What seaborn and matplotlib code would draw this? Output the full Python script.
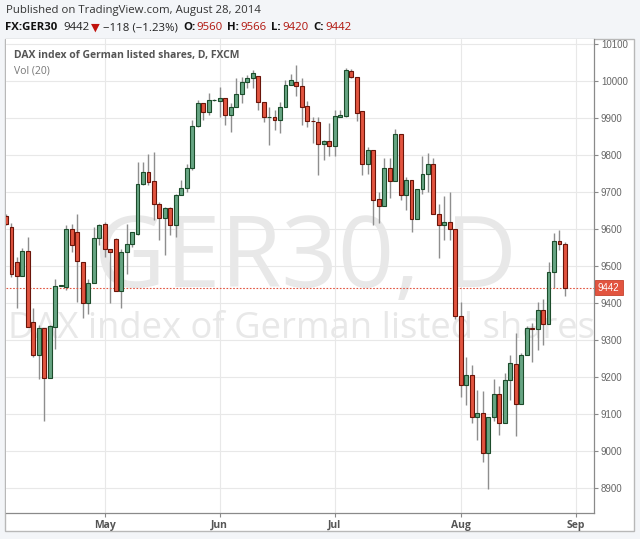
import numpy as np
import pandas as pd
import matplotlib
matplotlib.use("Agg")
import matplotlib.pyplot as plt
from matplotlib.patches import Rectangle
from matplotlib import transforms
import seaborn as sns

# Daily OHLC of FX:GER30, 7 Apr - 28 Aug 2014
opens = [9634, 9606, 9512, 9473, 9541, 9348, 9259, 9333, 9198, 9336,
         9447, 9444, 9599, 9591, 9510, 9399, 9455, 9576, 9615, 9546,
         9572, 9433, 9539, 9559, 9588, 9722, 9753, 9730, 9667, 9631,
         9658, 9611, 9692, 9712, 9764, 9878, 9940, 9917, 9948, 9947,
         9953, 9908, 9929, 9965, 9998, 10007, 10013, 9944, 9902, 9902,
         9896, 9929, 9989, 9996, 9986, 9932, 9892, 9890, 9831, 9838,
         9825, 9904, 9905, 10028, 10010, 9919, 9776, 9813, 9680, 9662,
         9764, 9731, 9856, 9692, 9732, 9627, 9708, 9749, 9775, 9642,
         9611, 9620, 9599, 9366, 9178, 9205, 9093, 9104, 8996, 9091,
         9154, 9075, 9192, 9235, 9127, 9261, 9334, 9329, 9381, 9343,
         9483, 9568, 9560]
highs = [9640, 9616, 9525, 9549, 9579, 9386, 9340, 9333, 9340, 9464,
         9450, 9611, 9613, 9640, 9510, 9465, 9606, 9615, 9620, 9546,
         9575, 9546, 9615, 9593, 9782, 9782, 9804, 9807, 9674, 9660,
         9660, 9696, 9732, 9775, 9895, 9949, 9940, 9968, 9952, 9983,
         9953, 9940, 10007, 10012, 10016, 10031, 10013, 9944, 9931, 9922,
         9944, 10003, 10019, 10043, 10007, 9947, 9904, 9904, 9842, 9886,
         9922, 9922, 10034, 10032, 10010, 9919, 9822, 9813, 9701, 9791,
         9791, 9870, 9856, 9741, 9732, 9708, 9797, 9806, 9791, 9667,
         9689, 9701, 9599, 9403, 9255, 9232, 9165, 9163, 9091, 9194,
         9176, 9212, 9261, 9320, 9266, 9338, 9347, 9403, 9410, 9510,
         9590, 9597, 9566]
lows = [9610, 9470, 9388, 9473, 9336, 9255, 9194, 9082, 9198, 9275,
        9446, 9435, 9539, 9404, 9361, 9370, 9455, 9557, 9525, 9399,
        9433, 9388, 9480, 9552, 9584, 9719, 9719, 9624, 9570, 9530,
        9584, 9579, 9692, 9701, 9759, 9877, 9895, 9908, 9946, 9902,
        9881, 9863, 9929, 9940, 9980, 9980, 9922, 9890, 9827, 9868,
        9859, 9929, 9989, 9960, 9881, 9876, 9832, 9746, 9786, 9797,
        9797, 9903, 9904, 10007, 9893, 9746, 9749, 9611, 9617, 9662,
        9683, 9731, 9678, 9651, 9593, 9627, 9695, 9700, 9642, 9521,
        9570, 9570, 9358, 9147, 9124, 9075, 9030, 8971, 8899, 9082,
        9043, 9075, 9138, 9040, 9127, 9261, 9241, 9273, 9286, 9343,
        9440, 9543, 9420]
closes = [9615, 9480, 9473, 9541, 9336, 9259, 9333, 9198, 9338, 9446,
          9449, 9599, 9557, 9514, 9399, 9455, 9576, 9611, 9546, 9539,
          9433, 9539, 9559, 9591, 9722, 9753, 9728, 9667, 9631, 9658,
          9611, 9692, 9712, 9764, 9878, 9940, 9917, 9949, 9950, 9953,
          9908, 9929, 9965, 9998, 10007, 10021, 9944, 9902, 9903, 9896,
          9929, 9989, 10004, 9986, 9931, 9892, 9891, 9830, 9838, 9825,
          9905, 9907, 10030, 10010, 9913, 9776, 9813, 9678, 9662, 9764,
          9731, 9856, 9692, 9732, 9627, 9708, 9749, 9775, 9642, 9611,
          9620, 9599, 9366, 9178, 9205, 9093, 9104, 8996, 9091, 9154,
          9075, 9192, 9239, 9127, 9261, 9334, 9329, 9381, 9343, 9483,
          9568, 9560, 9442]

# trading calendar (Labour Day missing), runs a week past the last bar
calendar = pd.bdate_range("2014-04-07", "2014-09-05").drop(pd.Timestamp("2014-05-01"))
dates = calendar[:len(closes)]
price_ticks = list(range(8900, 10101, 100))
month_labels = ["May", "Jun", "Jul", "Aug", "Sep"]

symbol = "FX:GER30"
title = "DAX index of German listed shares, D, FXCM"
published = "Published on TradingView.com, August 28, 2014"

df = pd.DataFrame({"open": opens, "high": highs, "low": lows, "close": closes}, index=dates)
df["pos"] = np.arange(len(df))

RED = "#e2543f"
RED_EDGE = "#6a150a"
GREEN = "#67a583"
GREEN_EDGE = "#1c4c2b"

sns.set_theme(style="white")
plt.rcParams["font.family"] = ["Open Sans", "DejaVu Sans"]

W, H = 640, 539
fig = plt.figure(figsize=(6.4, 5.39), dpi=100, facecolor="#f3f5f8")


def fx(px):
    return px / W


def fy(py):
    return 1 - py / H


# white chart frame, behind the axes
frame = Rectangle((fx(5), fy(531)), fx(634) - fx(5), fy(39) - fy(531),
                  transform=fig.transFigure, facecolor="white",
                  edgecolor="#b8b8b8", lw=1, zorder=-1)
fig.patches.append(frame)

ax = fig.add_axes([fx(6), fy(513), fx(594) - fx(6), fy(39) - fy(513)])
ax.set_zorder(1)
ax.set_facecolor("white")

# wicks and bodies
up = df["close"] >= df["open"]
ax.vlines(df["pos"], df["low"], df["high"], colors="#8e8e8e", lw=1, zorder=2)
ax.bar(df["pos"], np.maximum((df["close"] - df["open"]).abs(), 1.5),
       bottom=np.minimum(df["open"], df["close"]), width=0.72,
       color=np.where(up, GREEN, RED), edgecolor=np.where(up, GREEN_EDGE, RED_EDGE),
       lw=0.8, zorder=3)

last = df["close"].iloc[-1]
ax.axhline(last, color=RED, lw=0.8, ls=(0, (1.5, 1.5)), zorder=2.5)

# axes and grid
month_pos = [i for i in range(1, len(calendar)) if calendar[i].month != calendar[i - 1].month]
ax.set_xlim(0.0, 107.3)
ax.set_ylim(8833, 10113.5)
ax.set_xticks(month_pos)
ax.set_xticklabels(month_labels)
ax.set_yticks(price_ticks)
ax.yaxis.tick_right()
ax.grid(True, color="#e8e8e8", lw=0.8)
ax.set_axisbelow(True)
for side in ["left", "top"]:
    ax.spines[side].set_visible(False)
for side in ["right", "bottom"]:
    ax.spines[side].set_color("#8a8a8a")
    ax.spines[side].set_linewidth(0.9)
ax.tick_params(axis="y", right=True, left=False, length=3, width=0.8, color="#8a8a8a",
               labelsize=7, labelcolor="#666666", pad=2)
ax.tick_params(axis="x", bottom=True, length=3, width=0.8, color="#8a8a8a",
               labelsize=7.5, labelcolor="#555555", pad=2)
for lbl in ax.get_xticklabels():
    lbl.set_fontweight("bold")
for lbl in ax.get_yticklabels():
    lbl.set_family(["Liberation Sans", "DejaVu Sans"])

# watermark
ax.text(0.51, 0.477, "GER30, D", transform=ax.transAxes, ha="center", va="baseline",
        fontsize=71, color="#e8e8e8", zorder=0.4, clip_on=True)
ax.text(0.502, 0.369, "DAX index of German listed shares", transform=ax.transAxes,
        ha="center", va="baseline", fontsize=26.2, color="#e8e8e8", zorder=0.4, clip_on=True)

ax.text(0.0136, 0.966, title, transform=ax.transAxes, ha="left", va="center",
        fontsize=7.5, fontweight="bold", color="#555555")
ax.text(0.0136, 0.932, "Vol (20)", transform=ax.transAxes, ha="left", va="center",
        fontsize=7.5, color="#777777")

# last price tag on the price scale
tag = transforms.blended_transform_factory(ax.transAxes, ax.transData)
ax.text(1.0 + 4 / 588, last, f"{last:.0f}", transform=tag, ha="left", va="center",
        fontsize=7, color="white", family=["Liberation Sans", "DejaVu Sans"],
        bbox=dict(boxstyle="square,pad=0.3", fc=RED, ec="#c6412d", lw=0.6), clip_on=False)

# header
fig.text(fx(6), fy(11), published, ha="left", va="center", fontsize=8.2, color="#333333")

prev = df["close"].iloc[-2]
change = last - prev
pct = change / prev * 100
pieces = [
    (symbol, "bold", "#111111", 6),
    (f"{last:.0f}", "normal", "#222222", 2),
    ("\u25bc", "normal", "#c0120c", 3),
    (f"\u2212{abs(change):.0f} (\u2212{abs(pct):.2f}%)", "normal", "#222222", 5),
    ("O:", "bold", "#111111", 1),
    (f"{df['open'].iloc[-1]:.0f}", "normal", "#b0140c", 5),
    ("H:", "bold", "#111111", 1),
    (f"{df['high'].iloc[-1]:.0f}", "normal", "#b0140c", 5),
    ("L:", "bold", "#111111", 1),
    (f"{df['low'].iloc[-1]:.0f}", "normal", "#b0140c", 5),
    ("C:", "bold", "#111111", 1),
    (f"{last:.0f}", "normal", "#b0140c", 0),
]
renderer = fig.canvas.get_renderer()
x = 5
for text, weight, color, gap in pieces:
    t = fig.text(fx(x), fy(28), text, ha="left", va="center", fontsize=8.2,
                 fontweight=weight, color=color)
    bb = t.get_window_extent(renderer)
    x = bb.x1 + gap

fig.savefig("out.png", dpi=100, facecolor=fig.get_facecolor())
